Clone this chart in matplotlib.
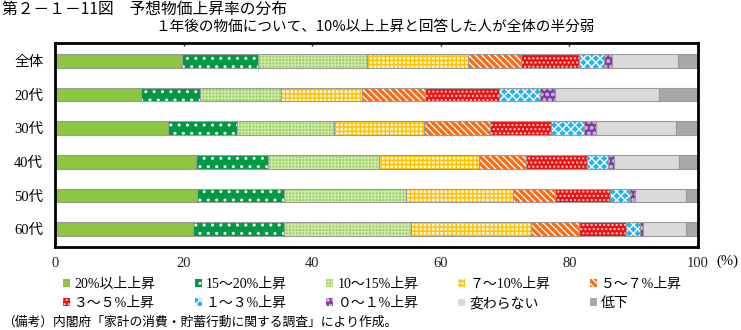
import matplotlib
matplotlib.use("Agg")
import matplotlib.pyplot as plt
from matplotlib.patches import Patch
import numpy as np

plt.rcParams['font.family'] = ['Noto Sans CJK JP', 'DejaVu Sans']
plt.rcParams['hatch.linewidth'] = 1.0

categories = ['全体', '20代', '30代', '40代', '50代', '60代']
series_names = ['20%以上上昇', '15～20%上昇', '10～15%上昇', '７～10%上昇', '５～７%上昇',
                '３～５%上昇', '１～３%上昇', '０～１%上昇', '変わらない', '低下']

s_20plus = [19.7, 13.4, 17.5, 21.9, 22.1, 21.5]
s_15_20 = [11.8, 9.2, 10.8, 11.2, 13.5, 14.1]
s_10_15 = [17.0, 12.5, 15.1, 17.3, 19.0, 19.7]
s_7_10 = [15.7, 12.6, 14.0, 15.5, 16.7, 18.8]
s_5_7 = [8.2, 9.8, 10.2, 7.4, 6.5, 7.4]
s_3_5 = [9.1, 11.5, 9.5, 9.4, 8.5, 7.3]
s_1_3 = [3.9, 6.4, 5.2, 3.3, 3.2, 2.2]
s_0_1 = [1.2, 2.3, 1.9, 1.0, 0.7, 0.4]
s_same = [10.3, 16.2, 12.4, 10.1, 8.0, 6.7]
s_down = [3.1, 6.1, 3.4, 2.9, 1.8, 1.9]

series = [s_20plus, s_15_20, s_10_15, s_7_10, s_5_7, s_3_5, s_1_3, s_0_1, s_same, s_down]

# (facecolor, hatch, hatch color)
styles = [
    ('#8DC641', None, '#8DC641'),
    ('#009944', '..', 'white'),
    ('#98CE58', '+++++', '#CDE8A8'),
    ('#FFF4CC', '++++', '#FFC000'),
    ('#FF6A10', '\\\\\\\\\\', 'white'),
    ('#EE1111', '....', '#FFD0D0'),
    ('#22B4F0', 'xxxx', 'white'),
    ('#7A3B9E', 'ooo', '#C9A6DD'),
    ('#DADADA', None, '#DADADA'),
    ('#A8A8A8', None, '#A8A8A8'),
]

serif_cjk = ['Liberation Serif', 'Noto Sans CJK JP']

fig = plt.figure(figsize=(7.41, 3.30), dpi=100)
ax = fig.add_axes([55 / 741, 1 - 247 / 330, (698 - 55) / 741, (247 - 43) / 330])

y = np.arange(len(categories))
left = np.zeros(len(categories))
h = 0.40
for vals, (fc, hatch, hc) in zip(series, styles):
    vals = np.array(vals)
    ax.barh(y, vals, left=left, height=h, color=fc, hatch=hatch, edgecolor=hc, linewidth=0)
    ax.barh(y, vals, left=left, height=h, fill=False, edgecolor='#9A9A9A', linewidth=0.8)
    left += vals

ax.set_xlim(0, 100)
ax.set_ylim(len(categories) - 0.47, -0.53)
ax.set_xticks([0, 20, 40, 60, 80, 100])
ax.set_xticklabels(['0', '20', '40', '60', '80', '100'], family=serif_cjk, fontsize=10.5)
ax.set_yticks(y)
ax.set_yticklabels(categories, family=serif_cjk, fontsize=10.5)
ax.tick_params(axis='x', bottom=False, top=True, labelbottom=True, labeltop=False,
               direction='in', length=2.5, width=1, pad=7, colors='#222222')
ax.tick_params(axis='y', length=0, pad=8.5)
for sp in ax.spines.values():
    sp.set_linewidth(2)
    sp.set_color('black')

fig.text(716 / 741, 1 - 261 / 330, '(%)', ha='left', va='center', fontsize=10.5, family=serif_cjk)

fig.text(2 / 741, 1 - 9 / 330, '第２－１－11図　予想物価上昇率の分布', ha='left', va='center', fontsize=11.3)
fig.text(375 / 741, 1 - 27 / 330, '１年後の物価について、10%以上上昇と回答した人が全体の半分弱',
         ha='center', va='center', fontsize=10.5)

handles = [Patch(facecolor=fc, hatch=hatch, edgecolor=hc, linewidth=0) for fc, hatch, hc in styles]
order = [0, 5, 1, 6, 2, 7, 3, 8, 4, 9]
leg = fig.legend([handles[i] for i in order], [series_names[i] for i in order],
                 ncol=5, loc='upper left', bbox_to_anchor=(63 / 741, 1 - 278 / 330),
                 frameon=False, handlelength=0.5, handleheight=0.5, handletextpad=0.3,
                 columnspacing=2.85, labelspacing=0.42, borderpad=0, borderaxespad=0,
                 prop={'family': serif_cjk, 'size': 10})

fig.text(2 / 741, 1 - 322 / 330, '（備考）内閣府「家計の消費・貯蓄行動に関する調査」により作成。',
         ha='left', va='center', fontsize=9.2)

fig.savefig('out.png', dpi=100)
